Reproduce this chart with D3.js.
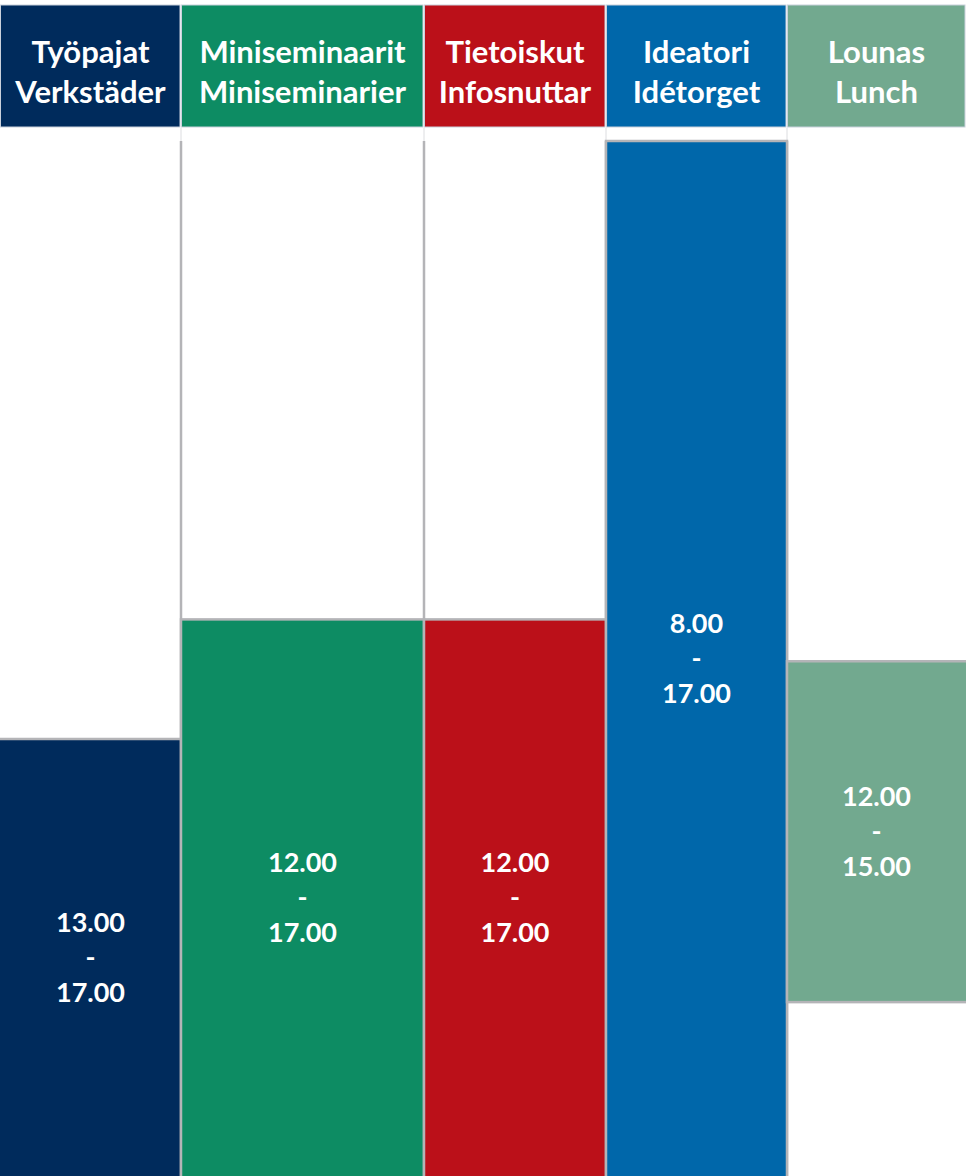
<!DOCTYPE html>
<html>
<head>
<meta charset="utf-8">
<title>Ohjelma</title>
<script src="https://cdn.jsdelivr.net/npm/d3@7/dist/d3.min.js"></script>
<style>
  body { margin: 0; background: #fff; }
  svg { display: block; }
  text { font-family: Lato, "Open Sans", sans-serif; font-weight: 700; fill: #fff; }
</style>
</head>
<body>
<div id="chart"></div>
<script>
// --- data ---
var titlesFi = ["Työpajat", "Miniseminaarit", "Tietoiskut", "Ideatori", "Lounas"];
var titlesSv = ["Verkstäder", "Miniseminarier", "Infosnuttar", "Idétorget", "Lunch"];
// bar extents in hours, as drawn in the picture
var startHour = [13, 12, 12, 8, 12.35];
var endHour   = [17, 17, 17, 17, 15.2];
// time labels shown in the bars
var startLabel = ["13.00", "12.00", "12.00", "8.00", "12.00"];
var endLabel   = ["17.00", "17.00", "17.00", "17.00", "15.00"];
var colors = ["#002b5c", "#0d8c63", "#bb1019", "#0067aa", "#72a98f"];

// --- layout ---
var W = 966, H = 1176;
var headTop = 5, headBottom = 127, bodyTop = 141;
var lineGap = 35;

var svg = d3.select("#chart").append("svg")
    .attr("width", W).attr("height", H);

// column edges (second column is wider, fits its title)
var x = d3.scaleLinear()
    .domain([0, 1, 2, 3, 4, 5])
    .range([0, 181, 424, 606, 787, 966]);

// 8.00 at the top of the body, 17.00 runs just past the bottom edge
var y = d3.scaleLinear()
    .domain([8, 17])
    .range([bodyTop, bodyTop + 9 * 119.6]);

var idx = d3.range(titlesFi.length);

// header cells
var head = svg.append("g").selectAll("g")
    .data(idx).enter().append("g");

head.append("rect")
    .attr("x", function(i) { return x(i) + 0.5; })
    .attr("y", headTop)
    .attr("width", function(i) { return x(i + 1) - x(i) - 1.5; })
    .attr("height", headBottom - headTop)
    .attr("fill", function(i) { return colors[i]; })
    .attr("stroke", "#c9d1dc")
    .attr("stroke-width", 1);

head.append("text")
    .attr("x", function(i) { return (x(i) + x(i + 1)) / 2; })
    .attr("y", 63)
    .attr("text-anchor", "middle")
    .style("font-size", "31px")
    .text(function(i) { return titlesFi[i]; });

head.append("text")
    .attr("x", function(i) { return (x(i) + x(i + 1)) / 2; })
    .attr("y", 103)
    .attr("text-anchor", "middle")
    .style("font-size", "31px")
    .text(function(i) { return titlesSv[i]; });

// column separators in the body
svg.append("g").selectAll("line")
    .data([1, 2, 3, 4]).enter().append("line")
    .attr("x1", function(d) { return x(d); })
    .attr("x2", function(d) { return x(d); })
    .attr("y1", bodyTop)
    .attr("y2", H)
    .attr("stroke", "#b4b4b7")
    .attr("stroke-width", 2.5);

svg.append("g").selectAll("line")
    .data([1, 2, 3, 4]).enter().append("line")
    .attr("x1", function(d) { return x(d); })
    .attr("x2", function(d) { return x(d); })
    .attr("y1", headBottom + 1)
    .attr("y2", bodyTop)
    .attr("stroke", "#dcdde0")
    .attr("stroke-width", 1);

// bars
var bars = svg.append("g").selectAll("g")
    .data(idx).enter().append("g");

bars.append("rect")
    .attr("x", function(i) { return x(i) + (i == 0 ? -2 : 0); })
    .attr("y", function(i) { return y(startHour[i]); })
    .attr("width", function(i) { return x(i + 1) - x(i) + (i == 0 ? 2 : 0) + (i == 4 ? 2 : 0); })
    .attr("height", function(i) { return y(endHour[i]) - y(startHour[i]); })
    .attr("fill", function(i) { return colors[i]; })
    .attr("stroke", "#b4b4b7")
    .attr("stroke-width", 2.5);

// time labels, centred on the visible part of each bar
function mid(i) {
    return (y(startHour[i]) + Math.min(y(endHour[i]), H)) / 2;
}

var rows = [
    function(i) { return startLabel[i]; },
    function() { return "-"; },
    function(i) { return endLabel[i]; }
];

rows.forEach(function(f, k) {
    bars.append("text")
        .attr("x", function(i) { return (x(i) + x(i + 1)) / 2; })
        .attr("y", function(i) { return mid(i) + (k - 1) * lineGap; })
        .attr("dy", "0.36em")
        .attr("text-anchor", "middle")
        .style("font-size", "27px")
        .text(f);
});
</script>
</body>
</html>
